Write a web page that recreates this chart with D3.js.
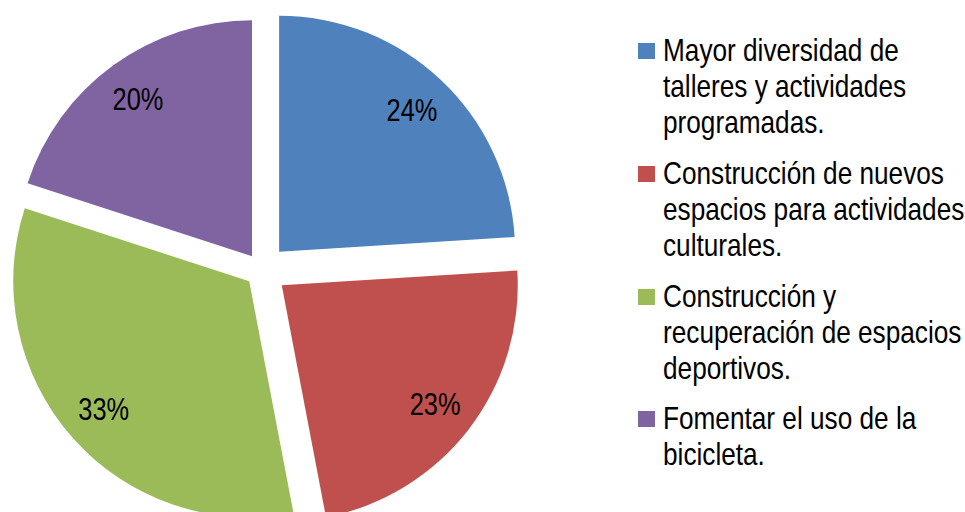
<!DOCTYPE html>
<html>
<head>
<meta charset="utf-8">
<script src="https://cdn.jsdelivr.net/npm/d3@7/dist/d3.min.js"></script>
<style>
  body { margin: 0; background: #fff; }
  svg { display: block; }
</style>
</head>
<body>
<svg width="965" height="512"></svg>
<script>
// legend text, one array of lines per slice
const categories = [
  ["Mayor diversidad de", "talleres y actividades", "programadas."],
  ["Construcción de nuevos", "espacios para actividades", "culturales."],
  ["Construcción y", "recuperación de espacios", "deportivos."],
  ["Fomentar el uso de la", "bicicleta."]
];
const values = [24, 23, 33, 20];
const colors = ["#4F81BD", "#C0504D", "#9BBB59", "#8064A2"];

function makePie() {
  const svg = d3.select("svg");
  const cx = 262, cy = 270, radius = 236;
  const explode = [25, 25, 17, 17]; // how far each slice is pulled out
  const narrow = 0.82; // no Arial Narrow installed, so squeeze Liberation Sans

  const pie = d3.pie().sort(null).value(d => d);
  const arcs = pie(values);
  const arc = d3.arc().innerRadius(0).outerRadius(radius);
  const labelArc = d3.arc().innerRadius(194).outerRadius(194);

  const g = svg.append("g").attr("transform", "translate(" + cx + "," + cy + ")");

  const slice = g.selectAll("g.slice")
    .data(arcs)
    .enter()
    .append("g")
    .attr("class", "slice")
    .attr("transform", (d, i) => {
      let mid = (d.startAngle + d.endAngle) / 2;
      return "translate(" + (Math.sin(mid) * explode[i]) + "," + (-Math.cos(mid) * explode[i]) + ")";
    });

  slice.append("path")
    .attr("d", arc)
    .attr("fill", (d, i) => colors[i]);

  slice.append("text")
    .attr("transform", d => "translate(" + labelArc.centroid(d) + ") scale(" + narrow + ",1)")
    .attr("text-anchor", "middle")
    .attr("dy", "0.35em")
    .style("font-family", "'Liberation Sans', Arial, sans-serif")
    .style("font-size", "31px")
    .attr("fill", "#000")
    .text(d => d.value + "%");

  // legend
  const legendTop = [61, 184, 307, 429];
  const legend = svg.append("g").attr("id", "legend");
  const item = legend.selectAll("g")
    .data(categories)
    .enter()
    .append("g")
    .attr("transform", (d, i) => "translate(638," + legendTop[i] + ")");

  item.append("rect")
    .attr("x", 0)
    .attr("y", -18)
    .attr("width", 17)
    .attr("height", 16)
    .attr("fill", (d, i) => colors[i]);

  item.append("text")
    .attr("transform", "translate(25,0) scale(0.845,1)")
    .style("font-family", "'Liberation Sans', Arial, sans-serif")
    .style("font-size", "31px")
    .attr("fill", "#000")
    .selectAll("tspan")
    .data(d => d)
    .enter()
    .append("tspan")
    .attr("x", 0)
    .attr("y", (d, i) => i * 35.8)
    .text(d => d);
}
makePie();
</script>
</body>
</html>
